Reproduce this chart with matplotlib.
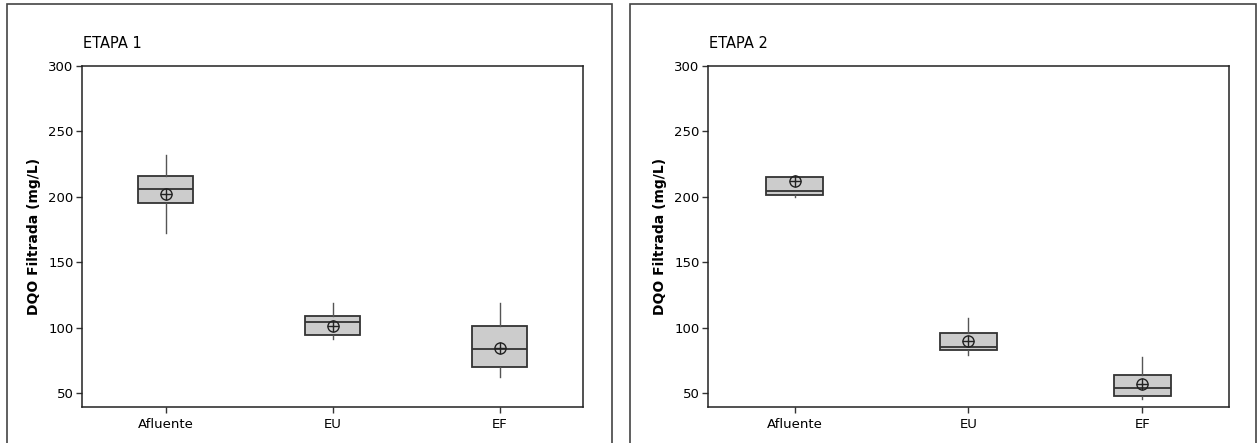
import matplotlib
matplotlib.use("Agg")
import matplotlib.pyplot as plt
from matplotlib.patches import Rectangle

plt.rcParams['font.family'] = ['DejaVu Sans']

categories = ["Afluente", "EU", "EF"]
panel_titles = ["ETAPA 1", "ETAPA 2"]
y_label = "DQO Filtrada (mg/L)"
y_ticks = [50, 100, 150, 200, 250, 300]

# ETAPA 1
e1_whislo = [172, 91, 62]
e1_q1 = [195, 94, 70]
e1_med = [206, 104, 84]
e1_q3 = [216, 109, 101.5]
e1_whishi = [232, 119, 119]
e1_mean = [202, 101.5, 84.5]

# ETAPA 2
e2_whislo = [199.5, 79, 45.5]
e2_q1 = [201, 82.5, 47.5]
e2_med = [204.5, 85.5, 54]
e2_q3 = [215, 96, 64]
e2_whishi = [216, 107, 77.5]
e2_mean = [212, 89.5, 57]

panels = [
    (e1_whislo, e1_q1, e1_med, e1_q3, e1_whishi, e1_mean),
    (e2_whislo, e2_q1, e2_med, e2_q3, e2_whishi, e2_mean),
]

W, H = 1258, 443
fig = plt.figure(figsize=(W / 100, H / 100), dpi=100)

# axes rectangles in pixels: (left, right, top, bottom)
ax_px = [(82, 583, 66, 407), (708, 1229, 66, 407)]
frame_px = [(7, 612), (630, 1256)]

for i, (stats_arrays, (l, r, t, b)) in enumerate(zip(panels, ax_px)):
    whislo, q1, med, q3, whishi, mean = stats_arrays
    ax = fig.add_axes([l / W, (H - b) / H, (r - l) / W, (b - t) / H])
    stats = []
    for k, name in enumerate(categories):
        stats.append(dict(label=name, whislo=whislo[k], q1=q1[k], med=med[k],
                          q3=q3[k], whishi=whishi[k], fliers=[]))
    ax.bxp(stats, positions=[1, 2, 3], widths=0.33, patch_artist=True,
           showcaps=False, showfliers=False,
           boxprops=dict(facecolor="#cccccc", edgecolor="#333333", linewidth=1.3),
           medianprops=dict(color="#333333", linewidth=1.3),
           whiskerprops=dict(color="#555555", linewidth=1.0))
    ax.plot([1, 2, 3], mean, linestyle="none", marker="o", markersize=8,
            markerfacecolor="none", markeredgecolor="#222222", markeredgewidth=1.0, zorder=5)
    ax.plot([1, 2, 3], mean, linestyle="none", marker="+", markersize=8,
            markeredgecolor="#222222", markeredgewidth=1.0, zorder=5)
    ax.set_xlim(0.5, 3.5)
    ax.set_ylim(39.3, 300)
    ax.set_yticks(y_ticks)
    ax.set_xticks([1, 2, 3])
    ax.set_xticklabels(categories)
    ax.tick_params(axis="both", labelsize=9.5, direction="out", length=4, width=1, color="#333333", pad=2)
    ax.tick_params(axis="x", pad=4)
    for sp in ax.spines.values():
        sp.set_linewidth(1.1)
        sp.set_color("#222222")
    ax.set_ylabel(y_label, fontsize=10, fontweight="bold", labelpad=5.5)
    fig.text((l + 1) / W, 1 - 43 / H, panel_titles[i], fontsize=10.5, ha="left", va="center")
    fl, fr = frame_px[i]
    fig.patches.append(Rectangle((fl / W, -0.05), (fr - fl) / W, 1 - 4 / H + 0.05,
                                 transform=fig.transFigure, fill=False,
                                 edgecolor="#444444", linewidth=1.2))

fig.savefig("out.png", dpi=100)
